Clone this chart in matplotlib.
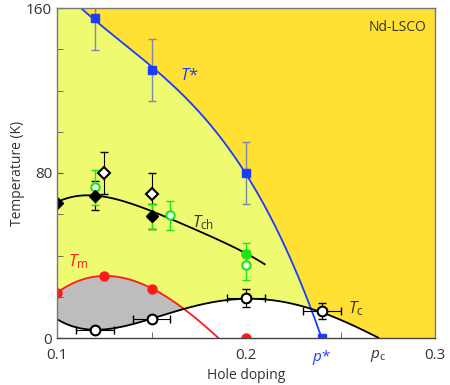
import matplotlib
matplotlib.use("Agg")
import matplotlib.pyplot as plt
import numpy as np

plt.rcParams['font.family'] = ['Open Sans', 'DejaVu Sans']
plt.rcParams['mathtext.fontset'] = 'custom'
plt.rcParams['mathtext.it'] = 'Open Sans:italic'
plt.rcParams['mathtext.rm'] = 'Open Sans'

# T* (blue squares)
tstar_p = [0.12, 0.15, 0.20, 0.24]
tstar_T = [155, 130, 80, 0]
tstar_err = [15.5, 15, 15, 0]

# Tm (red dots)
tm_p = [0.10, 0.125, 0.15, 0.20]
tm_T = [22, 30, 24, 0]

# Tc (open circles)
tc_p = [0.12, 0.15, 0.20, 0.24]
tc_T = [4, 9.2, 19.4, 13]
tc_xerr = [0.01, 0.01, 0.01, 0.01]
tc_yerr = [0, 0, 4.6, 4]

# Tch filled diamonds
dia_p = [0.10, 0.12, 0.15]
dia_T = [65.5, 69, 59]
dia_err = [0, 7, 6]

# open diamonds
odia_p = [0.125, 0.15]
odia_T = [80, 70]
odia_err = [10, 10]

# green points
gopen_p = [0.12, 0.16, 0.20]
gopen_T = [73, 59.5, 35.4]
gopen_err = [8.5, 7, 7.4]
gfill_p = [0.15, 0.20]
gfill_T = [59, 40.6]
gfill_err = [6, 5.3]

# guide curves, points
ts_curve_p = [0.112, 0.12, 0.15, 0.176, 0.20, 0.208, 0.228, 0.2356, 0.24]
ts_curve_T = [160, 155, 131, 109, 80, 67, 28, 12, 0]
tch_curve_p = [0.10, 0.112, 0.12, 0.14, 0.15, 0.16, 0.165, 0.197, 0.21]
tch_curve_T = [65.5, 69.7, 69.3, 63.7, 61.2, 58.6, 56.4, 41.8, 36]
tm_curve_p = [0.10, 0.112, 0.125, 0.15, 0.1545, 0.1615, 0.1677, 0.1854]
tm_curve_T = [22, 27.8, 30.2, 24.1, 21.7, 18.1, 13.6, 0]
tc_curve_p = [0.10, 0.11, 0.12, 0.1316, 0.15, 0.1633, 0.1757, 0.19, 0.20,
              0.209, 0.2286, 0.24, 0.255, 0.27]
tc_curve_T = [9.2, 5, 3.9, 5.5, 9.2, 12.8, 15.5, 19.2, 19.4, 18.9, 14.4, 13, 7.1, 0]

blue = '#1a3cff'
red = '#ff1a1a'
green = '#19e619'
dark_yellow = '#ffe033'
light_yellow = '#eefa70'
gray = '#bdbdbd'

ts_fit = np.polyfit(ts_curve_p, ts_curve_T, 3)
tch_fit = np.polyfit(tch_curve_p, tch_curve_T, 4)
tm_fit = np.polyfit(tm_curve_p, tm_curve_T, 3)
tc_fit = np.polyfit(tc_curve_p, tc_curve_T, 5)

pp = np.linspace(0.1, 0.3, 800)
tc_line = np.where(pp <= 0.27, np.clip(np.polyval(tc_fit, pp), 0, None), 0)
ts_line = np.where(pp <= 0.24, np.clip(np.polyval(ts_fit, pp), 0, None), 0)
tm_line = np.polyval(tm_fit, pp)

fig = plt.figure(figsize=(4.5, 3.85), dpi=100)
ax = fig.add_axes([57 / 450, 47 / 385, 378 / 450, 330 / 385])
ax.set_facecolor(dark_yellow)

ax.fill_between(pp, tc_line, np.minimum(ts_line, 160), where=ts_line > tc_line,
                interpolate=True, color=light_yellow, lw=0, zorder=1)
ax.fill_between(pp, 0, tc_line, color='white', lw=0, zorder=1.1)
ax.fill_between(pp, tc_line, tm_line, where=(tm_line > tc_line) & (pp < 0.19),
                interpolate=True, color=gray, lw=0, zorder=1.2)

# curves
m = pp <= 0.24
ax.plot(pp[m], ts_line[m], color=blue, lw=1.3, zorder=3)
m = pp <= 0.21
ax.plot(pp[m], np.polyval(tch_fit, pp[m]), color='black', lw=1.3, zorder=3)
m = pp <= 0.1854
ax.plot(pp[m], np.clip(tm_line[m], 0, None), color=red, lw=1.3, zorder=3)
m = pp <= 0.27
ax.plot(pp[m], tc_line[m], color='black', lw=1.3, zorder=3)

# error bars
ax.errorbar(tstar_p, tstar_T, yerr=tstar_err, fmt='none', ecolor='#7a88b0',
            elinewidth=1, capsize=3, zorder=4)
ax.errorbar(dia_p, dia_T, yerr=dia_err, fmt='none', ecolor='black',
            elinewidth=0.8, capsize=3, zorder=4)
ax.errorbar(odia_p, odia_T, yerr=odia_err, fmt='none', ecolor='black',
            elinewidth=0.8, capsize=3, zorder=4)
ax.errorbar(gopen_p, gopen_T, yerr=gopen_err, fmt='none', ecolor=green,
            elinewidth=1, capsize=3, zorder=4)
ax.errorbar(gfill_p, gfill_T, yerr=gfill_err, fmt='none', ecolor=green,
            elinewidth=1, capsize=3, zorder=4)
ax.errorbar(tc_p, tc_T, xerr=tc_xerr, yerr=tc_yerr, fmt='none', ecolor='black',
            elinewidth=0.8, capsize=3, zorder=4)

# markers
ax.plot(tstar_p, tstar_T, 's', color=blue, ms=6, zorder=5)
ax.plot(tm_p, tm_T, 'o', color=red, ms=6.5, zorder=5)
ax.plot(gfill_p, gfill_T, 'o', color=green, ms=6.5, zorder=5)
ax.plot(gopen_p, gopen_T, 'o', mfc='white', mec=green, mew=1.5, ms=6, zorder=5)
ax.plot(dia_p, dia_T, 'D', color='black', ms=6.5, zorder=6)
ax.plot(odia_p, odia_T, 'D', mfc='white', mec='black', mew=1.5, ms=6.5, zorder=6)
ax.plot(tc_p, tc_T, 'o', mfc='white', mec='black', mew=1.5, ms=7, zorder=6)

# labels on the curves
ax.text(0.1698, 127, r'$T$*', color=blue, fontsize=12, ha='center', va='center', zorder=7)
ax.text(0.1773, 56, r'$T_{\rm ch}$', color='#333333', fontsize=12, ha='center', va='center', zorder=7)
ax.text(0.1113, 37, r'$T_{\rm m}$', color=red, fontsize=12, ha='center', va='center', zorder=7)
ax.text(0.258, 14.4, r'$T_{\rm c}$', color='#333333', fontsize=12, ha='center', va='center', zorder=7)
ax.text(0.2955, 150.5, 'Nd-LSCO', color='#333333', fontsize=10, ha='right', va='center', zorder=7)

ax.set_xlim(0.1, 0.3)
ax.set_ylim(0, 160)

ax.set_xticks([0.1, 0.2, 0.24, 0.27, 0.3])
ax.set_xticklabels(['0.1', '0.2', r'$p$*', r'$p_{\rm c}$', '0.3'])
ax.set_xticks([0.15, 0.2, 0.25], minor=True)
ax.set_yticks([0, 80, 160])
ax.set_yticks([20, 40, 60, 100, 120, 140], minor=True)
ax.tick_params(axis='x', which='major', length=0, labelsize=11, labelcolor='#333333', pad=7)
ax.tick_params(axis='y', which='major', direction='in', length=4, labelsize=11,
               labelcolor='#333333', color='#555555')
ax.tick_params(which='minor', direction='in', length=4, color='#555555')
ax.get_xticklabels()[2].set_color(blue)

for s in ax.spines.values():
    s.set_color('#777777')
    s.set_linewidth(1)
    s.set_zorder(8)
ax.spines['bottom'].set_color('#444444')

ax.set_xlabel('Hole doping', fontsize=10, color='#333333', labelpad=1)
ax.set_ylabel('Temperature (K)', fontsize=10, color='#333333', labelpad=1)

fig.savefig('out.png', dpi=100)
